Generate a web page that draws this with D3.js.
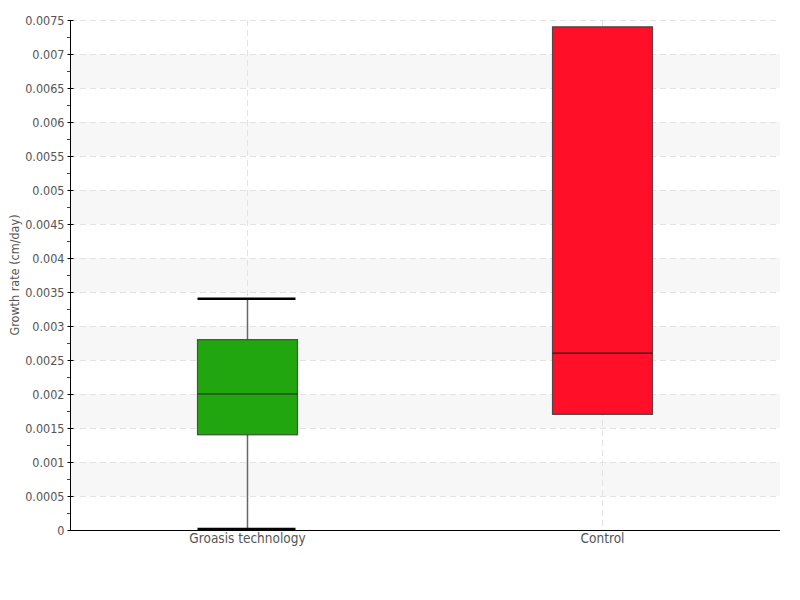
<!DOCTYPE html>
<head>
    <meta charset="utf-8">
    <title>Growth rate box plot</title>
    <script src="https://d3js.org/d3.v7.min.js"></script>
    <style>
        body{ margin: 0; background: #ffffff; }
        text{
            font-family: "DejaVu Sans Condensed", "DejaVu Sans", sans-serif;
            font-stretch: condensed;
            font-size: 14px;
            fill: #555555;
        }
        text.axisTitle{
            font-size: 12.5px;
        }
        .grid line{
            stroke: #e3e3e3;
            stroke-dasharray: 6,4;
        }
        path.domain{
            stroke: #000000;
        }
    </style>
</head>
<body>
<script>
    var categories = ["Groasis technology", "Control"];
    var lowValues = [0, 0.0017];
    var q1Values = [0.0014, 0.0017];
    var medianValues = [0.002, 0.0026];
    var q3Values = [0.0028, 0.0074];
    var highValues = [0.0034, 0.0074];
    var boxColours = ["#22a60f", "#ff0f28"];
    var yTicks = d3.range(0, 0.00751, 0.0005);

    var width = 800, height = 600;
    const margin = {top: 20, right: 20, bottom: 70, left: 70};

    var svg = d3.select("body").append("svg")
        .attr("width", width)
        .attr("height", height);

    var x = d3.scaleBand()
        .domain(categories)
        .range([margin.left, width - margin.right]);

    var y = d3.scaleLinear()
        .domain([0, 0.0075])
        .range([height - margin.bottom, margin.top]);

    var data = categories.map((c, i) => ({
        name: c, low: lowValues[i], q1: q1Values[i], median: medianValues[i],
        q3: q3Values[i], high: highValues[i], colour: boxColours[i]
    }));

    // alternating bands
    svg.selectAll("rect.band")
        .data(yTicks.slice(0, -1).filter((d, i) => i % 2 == 1))
        .enter()
        .append("rect")
        .attr("class", "band")
        .attr("x", margin.left)
        .attr("width", width - margin.right - margin.left)
        .attr("y", d => y(d + 0.0005))
        .attr("height", d => y(d) - y(d + 0.0005))
        .style("fill", "#f7f7f7");

    // horizontal grid
    svg.append("g")
        .attr("class", "grid")
        .selectAll("line")
        .data(yTicks.slice(1))
        .enter()
        .append("line")
        .attr("x1", margin.left)
        .attr("x2", width - margin.right)
        .attr("y1", d => Math.round(y(d)) + 0.5)
        .attr("y2", d => Math.round(y(d)) + 0.5);

    // vertical grid at categories
    svg.append("g")
        .attr("class", "grid")
        .selectAll("line")
        .data(categories)
        .enter()
        .append("line")
        .attr("x1", d => x(d) + x.bandwidth() / 2)
        .attr("x2", d => x(d) + x.bandwidth() / 2)
        .attr("y1", margin.top)
        .attr("y2", height - margin.bottom);

    var boxWidth = 100;

    var boxes = svg.selectAll("g.box")
        .data(data)
        .enter()
        .append("g")
        .attr("class", "box")
        .attr("transform", d => `translate(${x(d.name) + x.bandwidth() / 2}, 0)`);

    // whiskers
    boxes.append("line")
        .attr("x1", 0).attr("x2", 0)
        .attr("y1", d => y(d.high))
        .attr("y2", d => y(d.q3))
        .style("stroke", "#666666")
        .style("stroke-width", 1.5);

    boxes.append("line")
        .attr("x1", 0).attr("x2", 0)
        .attr("y1", d => y(d.q1))
        .attr("y2", d => y(d.low))
        .style("stroke", "#666666")
        .style("stroke-width", 1.5);

    // caps
    boxes.filter(d => d.high > d.q3)
        .append("line")
        .attr("x1", -boxWidth / 2).attr("x2", boxWidth / 2 - 2)
        .attr("y1", d => y(d.high)).attr("y2", d => y(d.high))
        .style("stroke", "#000000")
        .style("stroke-width", 2.5);

    boxes.filter(d => d.low < d.q1)
        .append("line")
        .attr("x1", -boxWidth / 2).attr("x2", boxWidth / 2 - 2)
        .attr("y1", d => y(d.low) - 1).attr("y2", d => y(d.low) - 1)
        .style("stroke", "#000000")
        .style("stroke-width", 2.5);

    // box
    boxes.append("rect")
        .attr("x", -boxWidth / 2)
        .attr("width", boxWidth)
        .attr("y", d => y(d.q3))
        .attr("height", d => y(d.q1) - y(d.q3))
        .style("fill", d => d.colour)
        .style("stroke", "#333333")
        .style("stroke-opacity", 0.8)
        .style("stroke-width", 1.2);

    // median
    boxes.append("line")
        .attr("x1", -boxWidth / 2).attr("x2", boxWidth / 2)
        .attr("y1", d => y(d.median)).attr("y2", d => y(d.median))
        .style("stroke", "#222222")
        .style("stroke-width", 1.2);

    // minor ticks
    svg.append("g")
        .selectAll("line")
        .data(yTicks.slice(0, -1))
        .enter()
        .append("line")
        .attr("x1", margin.left - 3)
        .attr("x2", margin.left)
        .attr("y1", d => Math.round(y(d + 0.00025)) + 0.5)
        .attr("y2", d => Math.round(y(d + 0.00025)) + 0.5)
        .style("stroke", "#dd0000");

    // y axis
    var yAxis = d3.axisLeft(y)
        .tickValues(yTicks)
        .tickSize(3)
        .tickPadding(3)
        .tickFormat(d => +d.toFixed(4));

    var yg = svg.append("g")
        .attr("transform", `translate(${margin.left + 0.5}, 0)`)
        .call(yAxis);
    yg.select("path.domain").attr("d", `M0,${margin.top}V${height - margin.bottom}`);
    yg.selectAll(".tick line").attr("x2", 3).attr("x1", -3).style("stroke", "#000");
    yg.selectAll(".tick text").style("font-size", "12.5px");

    // x axis
    var xAxis = d3.axisBottom(x).tickSize(0).tickPadding(3);
    var xg = svg.append("g")
        .attr("transform", `translate(0, ${height - margin.bottom + 0.5})`)
        .call(xAxis);
    xg.select("path.domain").attr("d", `M${margin.left},0H${width - margin.right}`);
    xg.selectAll(".tick text").style("font-size", "13.5px");

    svg.selectAll(".tick text")
        .style("fill", "#555555")
        .style("font-family", "'DejaVu Sans Condensed', 'DejaVu Sans', sans-serif");

    // y axis title
    svg.append("text")
        .attr("class", "axisTitle")
        .attr("transform", `translate(19, ${(margin.top + height - margin.bottom) / 2}) rotate(-90)`)
        .style("text-anchor", "middle")
        .text("Growth rate (cm/day)");
</script>
</body>
